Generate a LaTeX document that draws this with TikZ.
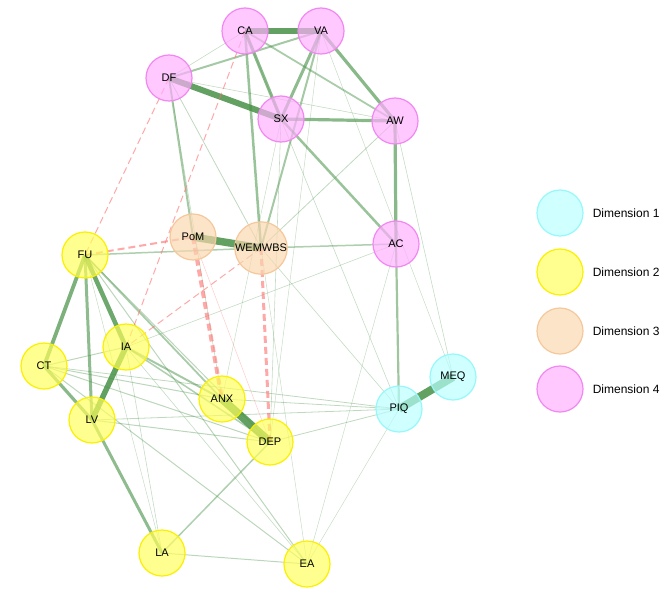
\documentclass[tikz,border=0pt]{standalone}
\usepackage{fontspec}
\setmainfont{Liberation Sans}
\usepackage{tikz}
\usetikzlibrary{backgrounds}

\definecolor{linkgreen}{RGB}{70,145,70}
\definecolor{negred}{RGB}{255,110,110}
\definecolor{dimone}{RGB}{185,255,255}
\definecolor{dimonel}{RGB}{150,248,250}
\definecolor{dimtwo}{RGB}{255,255,90}
\definecolor{dimtwol}{RGB}{250,240,0}
\definecolor{dimthree}{RGB}{250,215,175}
\definecolor{dimthreel}{RGB}{245,200,155}
\definecolor{dimfour}{RGB}{255,175,255}
\definecolor{dimfourl}{RGB}{242,135,242}

\tikzset{
  var/.style={circle, minimum size=46pt, inner sep=0pt, line width=1.2pt,
    fill opacity=0.68, text opacity=1, font=\fontsize{11}{12}\selectfont},
  dimA/.style={var, fill=dimone, draw=dimonel},
  dimB/.style={var, fill=dimtwo, draw=dimtwol},
  dimC/.style={var, fill=dimthree, draw=dimthreel},
  dimD/.style={var, fill=dimfour, draw=dimfourl},
  link/.style={linkgreen},
  neglink/.style={negred, dashed, dash pattern=on 7pt off 4pt}
}

\begin{document}
\begin{tikzpicture}[x=1pt, y=-1pt]
        \useasboundingbox (0,0) rectangle (669,594);

        % Dimension 4
        \node[dimD] (CA) at (245,31) {CA};
        \node[dimD] (VA) at (321,31) {VA};
        \node[dimD] (DF) at (169,78) {DF};
        \node[dimD] (SX) at (281,119) {SX};
        \node[dimD] (AW) at (395,121) {AW};
        \node[dimD] (AC) at (396,244) {AC};
        % Dimension 3
        \node[dimC] (PoM) at (193,237) {PoM};
        \node[dimC] (WEMWBS) at (261,248) {WEMWBS};
        % Dimension 2
        \node[dimB] (FU) at (85,255) {FU};
        \node[dimB] (IA) at (126,347) {IA};
        \node[dimB] (CT) at (44,366) {CT};
        \node[dimB] (ANX) at (222,399) {ANX};
        \node[dimB] (DEP) at (270,442) {DEP};
        \node[dimB] (LV) at (92,420) {LV};
        \node[dimB] (LA) at (162,553) {LA};
        \node[dimB] (EA) at (307,564) {EA};
        % Dimension 1
        \node[dimA] (PIQ) at (399,409) {PIQ};
        \node[dimA] (MEQ) at (453,377) {MEQ};

        \begin{pgfonlayer}{background}
        % positive links
        \foreach \a/\b/\w in {CA/VA/5.5, DF/SX/6, PoM/WEMWBS/7.5, ANX/DEP/8, PIQ/MEQ/8,
            IA/LV/5.5, FU/IA/4.5, FU/CT/3.8, FU/LV/3, CT/LV/3.2, LV/LA/3, CA/SX/3.2,
            VA/SX/3, VA/AW/3.2, SX/AW/3.2, AW/AC/3.2, AC/PIQ/2.2, SX/AC/2.5,
            CA/WEMWBS/2.5, VA/WEMWBS/2, DF/VA/2, DF/PoM/2, CA/AW/1.8,
            WEMWBS/AC/1.5, FU/WEMWBS/1.5, FU/ANX/1.8, IA/ANX/2, IA/DEP/1.5,
            CT/IA/1, CT/ANX/1, CT/DEP/1, CT/PIQ/0.8, LV/DEP/1, LV/PIQ/0.8,
            DEP/LA/1.5, LA/EA/1, ANX/PIQ/0.8, DEP/PIQ/0.8, CT/EA/1, FU/EA/1,
            FU/DEP/1, IA/EA/0.6, IA/LA/0.6, FU/LA/0.5, PIQ/EA/0.5, AW/MEQ/0.6,
            AW/WEMWBS/0.8, DF/CA/0.6, DF/AW/0.6, DF/WEMWBS/0.8, DF/ANX/0.6,
            CA/PIQ/0.6, VA/MEQ/0.5, VA/DEP/0.5, SX/DEP/0.6, SX/ANX/0.5,
            AC/IA/0.6, AC/EA/0.5, WEMWBS/EA/0.5, WEMWBS/PIQ/0.6}
        {
            \pgfmathsetmacro{\op}{min(0.25+0.12*\w,0.85)}
            \draw[link, line width=\w pt, draw opacity=\op] (\a.center) -- (\b.center);
        }
        % negative links
        \foreach \a/\b/\w in {FU/PoM/2, DF/FU/1, CA/IA/1, WEMWBS/IA/1,
            PoM/ANX/4, WEMWBS/DEP/3}
        {
            \draw[neglink, line width=\w pt, draw opacity=0.6] (\a.center) -- (\b.center);
        }
        \draw[negred, line width=0.5pt, draw opacity=0.35] (PoM.center) -- (DEP.center);
        \end{pgfonlayer}

        % legend
        \node[dimA] (key1) at (560,213) {};
        \node[dimB] (key2) at (560,272) {};
        \node[dimC] (key3) at (560,331) {};
        \node[dimD] (key4) at (560,389) {};
        \foreach \k/\t in {1/Dimension 1, 2/Dimension 2, 3/Dimension 3, 4/Dimension 4}
            \node[anchor=west, inner sep=0pt, font=\fontsize{12}{13}\selectfont] (lab\k) at ([xshift=9pt]key\k.east) {\t};
\end{tikzpicture}
\end{document}
